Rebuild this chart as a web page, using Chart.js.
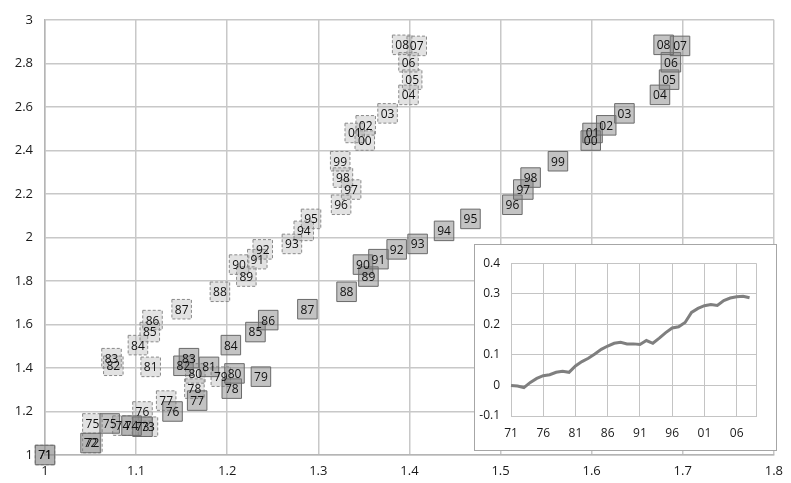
<!DOCTYPE html>
<html>
<head>
<meta charset="utf-8">
<script src="https://cdn.jsdelivr.net/npm/chart.js@4/dist/chart.umd.min.js"></script>
<style>
  body { margin: 0; background: #fff; }
  #wrap { position: relative; width: 791px; height: 483px; }
  #inset { position: absolute; left: 474px; top: 244px; width: 303px; height: 207px;
           border: 1px solid #a6a6a6; box-sizing: border-box; background: #fff; }
</style>
</head>
<body>
<div id="wrap">
  <canvas id="main_canvas" width="791" height="483"></canvas>
  <div id="inset"><canvas id="inset_canvas" width="301" height="205"></canvas></div>
</div>
<script>
// year labels, 1971-2008
var years = ['71','72','73','74','75','76','77','78','79','80','81','82','83','84','85','86','87','88','89',
             '90','91','92','93','94','95','96','97','98','99','00','01','02','03','04','05','06','07','08'];

// vertical value (same for both series)
var yVals = [1.00, 1.055, 1.13, 1.135, 1.145, 1.20, 1.25, 1.305, 1.36, 1.375, 1.405, 1.41, 1.445, 1.505,
             1.565, 1.62, 1.67, 1.75, 1.82, 1.875, 1.90, 1.945, 1.97, 2.03, 2.085, 2.15, 2.22, 2.275, 2.35,
             2.445, 2.48, 2.515, 2.57, 2.655, 2.725, 2.805, 2.88, 2.885];

// left branch (dashed boxes)
var xDashed = [1.00, 1.052, 1.113, 1.085, 1.052, 1.107, 1.133, 1.164, 1.193, 1.165, 1.116, 1.075, 1.073, 1.102,
               1.115, 1.118, 1.150, 1.192, 1.221, 1.213, 1.233, 1.239, 1.271, 1.284, 1.292, 1.325, 1.336, 1.327,
               1.324, 1.351, 1.340, 1.352, 1.376, 1.399, 1.403, 1.399, 1.408, 1.392];

// right branch (solid boxes)
var xSolid = [1.00, 1.050, 1.107, 1.095, 1.071, 1.140, 1.167, 1.205, 1.237, 1.208, 1.180, 1.152, 1.158, 1.204,
              1.231, 1.245, 1.288, 1.331, 1.355, 1.349, 1.366, 1.386, 1.409, 1.438, 1.467, 1.513, 1.525, 1.533,
              1.563, 1.599, 1.601, 1.616, 1.636, 1.675, 1.685, 1.687, 1.697, 1.679];

// inset line
var gapVals = [0.0, -0.002, -0.007, 0.01, 0.023, 0.032, 0.035, 0.043, 0.046, 0.043, 0.064, 0.078, 0.089, 0.103,
               0.118, 0.129, 0.138, 0.141, 0.136, 0.136, 0.134, 0.147, 0.138, 0.155, 0.173, 0.188, 0.192, 0.206,
               0.239, 0.252, 0.261, 0.265, 0.262, 0.278, 0.286, 0.29, 0.292, 0.287];

var xTicks = [1, 1.1, 1.2, 1.3, 1.4, 1.5, 1.6, 1.7, 1.8];
var yTicks = [1, 1.2, 1.4, 1.6, 1.8, 2, 2.2, 2.4, 2.6, 2.8, 3];
var insetYTicks = [-0.1, 0, 0.1, 0.2, 0.3, 0.4];

function toPoints(xs, ys) {
    var pts = [];
    for (var i = 0; i < xs.length; i++) pts.push({x: xs[i], y: ys[i]});
    return pts;
}

function setTicks(list) {
    return function(axis) { axis.ticks = list.map(function(v){ return {value: v}; }); };
}

var gridCol = '#c8c8c8';

// dashed border for the left-branch boxes
var dashPlugin = {
    id: 'dashPlugin',
    beforeDatasetDraw: function(chart, args) {
        if (chart.data.datasets[args.index].dashed) {
            chart.ctx.save();
            chart.ctx.setLineDash([3, 2]);
        }
    },
    afterDatasetDraw: function(chart, args) {
        if (chart.data.datasets[args.index].dashed) chart.ctx.restore();
    }
};

// year label inside every box
var boxLabels = {
    id: 'boxLabels',
    afterDatasetsDraw: function(chart) {
        var ctx = chart.ctx;
        ctx.save();
        ctx.font = '12px "Open Sans"';
        ctx.fillStyle = '#111';
        ctx.textAlign = 'center';
        ctx.textBaseline = 'middle';
        for (var d = chart.data.datasets.length - 1; d >= 0; d--) {
            chart.getDatasetMeta(d).data.forEach(function(pt, j) {
                ctx.fillText(years[j], pt.x, pt.y + 1);
            });
        }
        ctx.restore();
    }
};

var ctx1 = document.getElementById('main_canvas');
var mainChart = new Chart(ctx1, {
    type: 'scatter',
    data: {
        datasets: [
            {
                label: 'right',
                data: toPoints(xSolid, yVals),
                pointStyle: 'rect',
                pointRadius: 13.8,
                backgroundColor: 'rgba(128,128,128,0.47)',
                borderColor: '#6a6a6a',
                borderWidth: 1,
                clip: false
            },
            {
                label: 'left',
                dashed: true,
                data: toPoints(xDashed, yVals),
                pointStyle: 'rect',
                pointRadius: 13.8,
                backgroundColor: 'rgba(160,160,160,0.3)',
                borderColor: '#8a8a8a',
                borderWidth: 1,
                clip: false
            }
        ]
    },
    options: {
        responsive: false,
        animation: false,
        events: [],
        layout: { padding: { top: 15, right: 13, left: 0, bottom: 0 } },
        plugins: { legend: { display: false }, tooltip: { enabled: false } },
        scales: {
            x: {
                type: 'linear', min: 1, max: 1.8,
                afterBuildTicks: setTicks(xTicks),
                afterFit: function(s) { s.height = 28; },
                grid: { color: gridCol, lineWidth: 1.5, drawTicks: false },
                border: { color: '#b5b5b5', width: 1.5 },
                ticks: { padding: 8, color: '#1a1a1a', font: { family: 'Open Sans', size: 13 },
                         callback: function(v) { return String(v); } }
            },
            y: {
                type: 'linear', min: 1, max: 3,
                afterBuildTicks: setTicks(yTicks),
                afterFit: function(s) { s.width = 45; },
                grid: { color: gridCol, lineWidth: 1.5, drawTicks: false },
                border: { color: '#b5b5b5', width: 1.5 },
                ticks: { padding: 12, color: '#1a1a1a', font: { family: 'Open Sans', size: 13 },
                         callback: function(v) { return String(v); } }
            }
        }
    },
    plugins: [dashPlugin, boxLabels]
});

var ctx2 = document.getElementById('inset_canvas');
var insetChart = new Chart(ctx2, {
    type: 'line',
    data: {
        labels: years.concat(['']),
        datasets: [{
            data: gapVals,
            borderColor: '#7f7f7f',
            borderWidth: 3,
            pointRadius: 0,
            tension: 0,
            fill: false
        }]
    },
    options: {
        responsive: false,
        animation: false,
        events: [],
        layout: { padding: { top: 9, right: 20, left: 0, bottom: 0 } },
        plugins: { legend: { display: false }, tooltip: { enabled: false } },
        scales: {
            x: {
                afterFit: function(s) { s.height = 34; },
                grid: {
                    drawTicks: false, lineWidth: 1,
                    color: function(c) { return (c.index % 5 === 0 || c.index === years.length) ? '#c4c4c4' : 'rgba(0,0,0,0)'; }
                },
                border: { color: '#c4c4c4' },
                ticks: {
                    autoSkip: false, maxRotation: 0, padding: 10, color: '#1a1a1a',
                    font: { family: 'Open Sans', size: 12 },
                    callback: function(v, i) { return i % 5 === 0 ? this.getLabelForValue(v) : ''; }
                }
            },
            y: {
                type: 'linear', min: -0.1, max: 0.4,
                afterBuildTicks: setTicks(insetYTicks),
                afterFit: function(s) { s.width = 36; },
                grid: { color: '#c4c4c4', lineWidth: 1, drawTicks: false },
                border: { color: '#c4c4c4' },
                ticks: { padding: 11, color: '#1a1a1a', font: { family: 'Open Sans', size: 12 },
                         callback: function(v) { return String(v); } }
            }
        }
    }
});
</script>
</body>
</html>
